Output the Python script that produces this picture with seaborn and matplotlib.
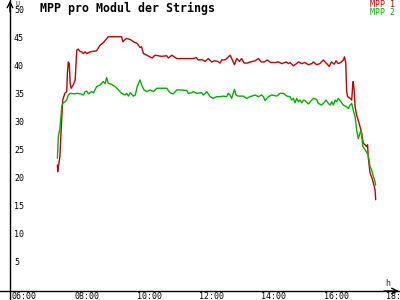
import matplotlib
matplotlib.use("Agg")
import matplotlib.pyplot as plt
import seaborn as sns
import pandas as pd

# ---- data (hours as decimal, values) ----
mpp1_time = [7.36, 7.37, 7.44, 7.48, 7.53, 7.60, 7.66, 7.68, 7.71, 7.74, 7.77, 7.80, 7.87, 7.93,
             7.96, 7.98, 8.03, 8.08, 8.14, 8.19, 8.25, 8.30, 8.41, 8.62, 8.73, 8.83, 8.99, 9.20,
             9.42, 9.46, 9.53, 9.58, 9.70, 9.80, 9.92, 10.01, 10.06, 10.12, 10.23, 10.33, 10.40,
             10.49, 10.70, 10.87, 10.92, 11.03, 11.19, 11.29, 11.72, 11.81, 11.88, 12.00, 12.10,
             12.20, 12.31, 12.40, 12.50, 12.58, 12.63, 12.75, 12.90, 12.97, 13.04, 13.11, 13.20,
             13.27, 13.35, 13.45, 13.55, 13.70, 13.81, 13.90, 14.00, 14.09, 14.20, 14.34, 14.45,
             14.56, 14.70, 14.77, 14.82, 14.93, 15.03, 15.09, 15.20, 15.30, 15.41, 15.52, 15.57,
             15.68, 15.78, 15.89, 16.00, 16.08, 16.15, 16.24, 16.30, 16.37, 16.45, 16.53, 16.57,
             16.61, 16.64, 16.67, 16.75, 16.80, 16.83, 16.85, 16.88, 16.91, 16.96, 17.01, 17.07,
             17.12, 17.17, 17.23, 17.28, 17.31, 17.33, 17.39, 17.44, 17.50, 17.55, 17.57]
mpp1_value = [22.5, 21.3, 24.0, 28.7, 34.1, 35.3, 35.6, 38.9, 40.9, 40.6, 37.1, 36.2, 36.8, 37.7,
              40.7, 43.0, 43.2, 42.8, 42.7, 42.4, 42.7, 42.4, 42.7, 42.9, 43.9, 44.3, 45.4, 45.4,
              45.4, 44.5, 44.9, 45.1, 44.9, 44.5, 44.2, 43.5, 43.6, 42.4, 42.1, 41.8, 41.6,
              42.1, 41.9, 42.0, 41.6, 42.1, 41.5, 41.5, 41.5, 41.7, 41.25, 41.3, 41.0,
              41.5, 40.9, 41.1, 41.0, 40.7, 41.25, 41.3, 42.1, 41.3, 40.4, 41.5, 41.0,
              41.5, 40.7, 40.7, 40.9, 41.1, 41.5, 40.9, 40.9, 41.25, 40.8, 40.8, 40.9,
              40.6, 40.9, 40.6, 40.8, 40.2, 40.6, 40.9, 40.6, 40.8, 40.4, 40.6, 40.9,
              40.4, 40.6, 41.25, 40.6, 40.1, 40.9, 40.5, 41.1, 40.6, 40.8, 41.25, 41.8,
              40.7, 35.6, 34.7, 34.4, 34.1, 36.5, 37.4, 35.8, 32.9, 31.4, 30.5, 29.3,
              28.2, 26.4, 26.1, 25.8, 26.1, 24.0, 21.0, 20.4, 19.2, 18.0, 16.3]

mpp2_time = [7.36, 7.39, 7.44, 7.50, 7.53, 7.60, 7.66, 7.71, 7.77, 7.90, 8.00, 8.10, 8.20, 8.25,
             8.30, 8.36, 8.46, 8.52, 8.62, 8.73, 8.83, 8.89, 8.94, 8.99, 9.10, 9.21, 9.32, 9.42,
             9.53, 9.58, 9.64, 9.70, 9.80, 9.86, 9.92, 10.01, 10.06, 10.14, 10.23, 10.33, 10.44,
             10.55, 10.87, 10.97, 11.08, 11.19, 11.29, 11.51, 11.56, 11.67, 11.72, 11.83, 11.99,
             12.04, 12.10, 12.15, 12.26, 12.36, 12.47, 12.58, 12.68, 12.79, 12.84, 12.90, 12.95,
             13.00, 13.04, 13.09, 13.16, 13.32, 13.43, 13.54, 13.70, 13.81, 13.91, 13.97, 14.02,
             14.13, 14.24, 14.40, 14.50, 14.61, 14.72, 14.82, 14.88, 14.93, 14.98, 15.04, 15.09,
             15.14, 15.20, 15.25, 15.30, 15.41, 15.52, 15.57, 15.68, 15.73, 15.84, 15.91, 15.98,
             16.05, 16.11, 16.16, 16.21, 16.27, 16.32, 16.37, 16.43, 16.53, 16.64, 16.69, 16.75,
             16.80, 16.85, 16.91, 16.96, 17.01, 17.07, 17.10, 17.16, 17.23, 17.33, 17.39, 17.44,
             17.50, 17.55, 17.57]
mpp2_value = [23.7, 27.6, 29.0, 32.9, 33.5, 33.8, 34.1, 35.0, 35.3, 35.2, 35.3, 35.2, 35.0, 35.6,
              35.7, 35.2, 35.6, 35.4, 36.5, 36.8, 37.4, 37.0, 38.1, 37.1, 36.9, 36.5, 35.9, 35.3,
              35.0, 35.3, 34.8, 35.4, 34.8, 35.0, 36.5, 37.7, 36.8, 35.9, 35.6, 35.9, 35.6,
              36.2, 36.2, 35.4, 35.2, 35.9, 35.9, 35.8, 35.3, 35.4, 35.6, 35.3, 35.4,
              35.0, 35.3, 35.6, 34.7, 34.4, 34.7, 34.7, 34.8, 34.7, 35.3, 35.0, 34.4,
              35.3, 36.0, 35.0, 34.8, 34.8, 34.4, 34.7, 35.0, 34.7, 35.0, 34.7, 34.0,
              34.7, 35.0, 34.8, 35.3, 35.3, 34.8, 34.7, 34.1, 34.4, 33.6, 34.4, 33.8,
              34.1, 33.6, 34.1, 34.0, 33.4, 34.1, 34.4, 34.2, 33.5, 33.2, 33.6, 34.1,
              33.5, 33.2, 33.8, 33.2, 34.1, 33.8, 34.4, 34.0, 33.2, 32.9, 32.6, 33.2,
              33.5, 32.3, 31.1, 28.75, 27.2, 28.2, 28.75, 25.8, 25.2, 24.3, 22.2, 21.6,
              20.4, 19.5, 18.9]

series_names = ["MPP 1", "MPP 2"]
series_colors = ["#c00000", "#00b000"]
x_ticks = [6, 8, 10, 12, 14, 16, 18]
x_tick_labels = ["06:00", "08:00", "10:00", "12:00", "14:00", "16:00", "18:00"]
y_ticks = [5, 10, 15, 20, 25, 30, 35, 40, 45, 50]
title = "MPP pro Modul der Strings"

# ---- build frame ----
df = pd.concat([
    pd.DataFrame({"t": mpp1_time, "v": mpp1_value, "s": series_names[0]}),
    pd.DataFrame({"t": mpp2_time, "v": mpp2_value, "s": series_names[1]}),
])

sns.set_style("white")
plt.rcParams["font.family"] = ["DejaVu Sans Mono", "DejaVu Sans"]

fig = plt.figure(figsize=(4, 3), dpi=100)
ax = fig.add_axes([0, 0, 1, 1])
ax.set_facecolor("white")

XMIN, XMAX = 5.519, 18.35
YMIN, YMAX = -1.607, 51.96
YAX = 5.84  # position of the vertical axis

sns.lineplot(data=df, x="t", y="v", hue="s", palette=series_colors,
             hue_order=series_names, estimator=None, sort=False,
             linewidth=1.0, legend=False, ax=ax)

ax.set_xlim(XMIN, XMAX)
ax.set_ylim(YMIN, YMAX)
ax.set_xlabel("")
ax.set_ylabel("")

for s in ["top", "right"]:
    ax.spines[s].set_visible(False)
ax.spines["left"].set_position(("data", YAX))
ax.spines["bottom"].set_position(("data", 0))
for s in ["left", "bottom"]:
    ax.spines[s].set_color("black")
    ax.spines[s].set_linewidth(1.0)

ax.set_xticks(x_ticks)
ax.set_yticks(y_ticks)
ax.tick_params(axis="both", direction="inout", length=6, width=1.0, color="black",
               labelbottom=False, labelleft=False)

fs = 6.0
for t, lab in zip(x_ticks, x_tick_labels):
    ax.annotate(lab, xy=(t, 0), xycoords="data", xytext=(-3, -1), textcoords="offset pixels",
                ha="left", va="top", fontsize=fs, color="black", annotation_clip=False)
for v in y_ticks:
    ax.annotate(str(v), xy=(YAX, v), xycoords="data", xytext=(4, 0), textcoords="offset pixels",
                ha="left", va="center", fontsize=fs, color="black", annotation_clip=False)

# arrowheads
ax.annotate("", xy=(0.997, 0), xytext=(0.96, 0), xycoords=("axes fraction", "data"),
            arrowprops=dict(arrowstyle="->", lw=1.0, color="black", shrinkA=0, shrinkB=0))
ax.annotate("", xy=(YAX, 0.998), xytext=(YAX, 0.96), xycoords=("data", "axes fraction"),
            arrowprops=dict(arrowstyle="->", lw=1.0, color="black", shrinkA=0, shrinkB=0))

# axis unit labels
ax.text(15 / 400, 1 - 3.5 / 300, "U", transform=ax.transAxes, fontsize=4.8, ha="left", va="center")
ax.text(385 / 400, 1 - 283 / 300, "h", transform=ax.transAxes, fontsize=fs, ha="left", va="center")

# title
ax.text(40 / 400, 1 - 8 / 300, title, transform=ax.transAxes, fontsize=8.4, fontweight="bold",
        ha="left", va="center", color="black")

# legend texts
for i, (n, c) in enumerate(zip(series_names, series_colors)):
    ax.text(395 / 400, 1 - (4.5 + 8 * i) / 300, n, transform=ax.transAxes, fontsize=fs,
            ha="right", va="center", color=c)

fig.savefig("out.png", dpi=100, facecolor="white")
